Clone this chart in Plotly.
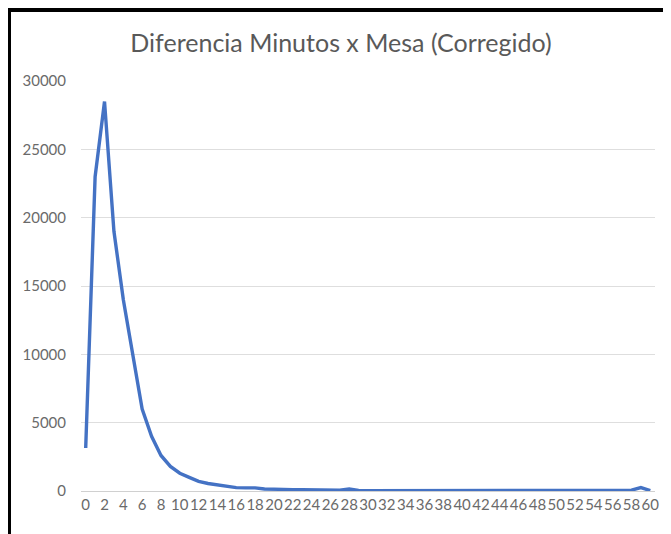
import plotly.graph_objects as go

categories = list(range(0, 61))
values = [3150, 23000, 28500, 19000, 14000, 10000, 6000, 4000, 2600, 1800,
          1300, 1000, 700, 550, 450, 350, 250, 230, 230, 150,
          120, 110, 100, 100, 90, 90, 60, 60, 150, 40,
          30, 30, 30, 30, 30, 30, 30, 30, 30, 30,
          30, 30, 30, 30, 30, 30, 30, 30, 30, 30,
          30, 30, 30, 30, 30, 30, 30, 40, 60, 250, 30]
tick_labels = [str(c) for c in categories[::2]]
y_ticks = [0, 5000, 10000, 15000, 20000, 25000, 30000]

# page body has an 8px margin, so the figure is 8px smaller than the window
W, H = 663, 526
ML, MR, MT, MB = 73, 16, 73, 43
pw = W - ML - MR
ph = H - MT - MB

def px_x(px):
    return (px - ML) / pw

def px_y(py):
    return (H - MB - py) / ph

fig = go.Figure()
fig.add_trace(go.Scatter(
    x=[str(c) for c in categories], y=values, mode="lines",
    line=dict(color="#4472C4", width=3.4),
    hoverinfo="skip", showlegend=False,
))

fig.update_layout(
    width=W, height=H,
    margin=dict(l=ML, r=MR, t=MT, b=MB, pad=0),
    paper_bgcolor="white", plot_bgcolor="white",
    title=dict(text="Diferencia Minutos x Mesa (Corregido)",
               font=dict(family="Lato", size=25, color="#595959"),
               x=333 / W, xanchor="center", xref="container",
               y=1 - 35 / H, yanchor="middle", yref="container"),
    xaxis=dict(type="category", range=[-0.5, 60.5],
               tickmode="array", tickvals=tick_labels, ticktext=tick_labels,
               tickangle=0, showgrid=False, showline=True,
               linecolor="#d0d0d0", linewidth=1, ticks="",
               tickfont=dict(family="Lato", size=15, color="#6a6a6a")),
    yaxis=dict(range=[0, 30000], tickvals=y_ticks,
               ticktext=[str(v) for v in y_ticks],
               showgrid=True, gridcolor="#dedede", gridwidth=1,
               zeroline=False, showline=False, ticks="",
               ticklabelstandoff=14,
               tickfont=dict(family="Lato", size=15, color="#6a6a6a")),
    shapes=[
        dict(type="rect", xref="paper", yref="paper",
             x0=px_x(-2), x1=px_x(W + 2), y0=px_y(4), y1=px_y(0),
             fillcolor="black", line=dict(width=0), layer="above"),
        dict(type="rect", xref="paper", yref="paper",
             x0=px_x(-1), x1=px_x(3), y0=px_y(H + 2), y1=px_y(0),
             fillcolor="black", line=dict(width=0), layer="above"),
    ],
)

fig.write_html("out.html")
